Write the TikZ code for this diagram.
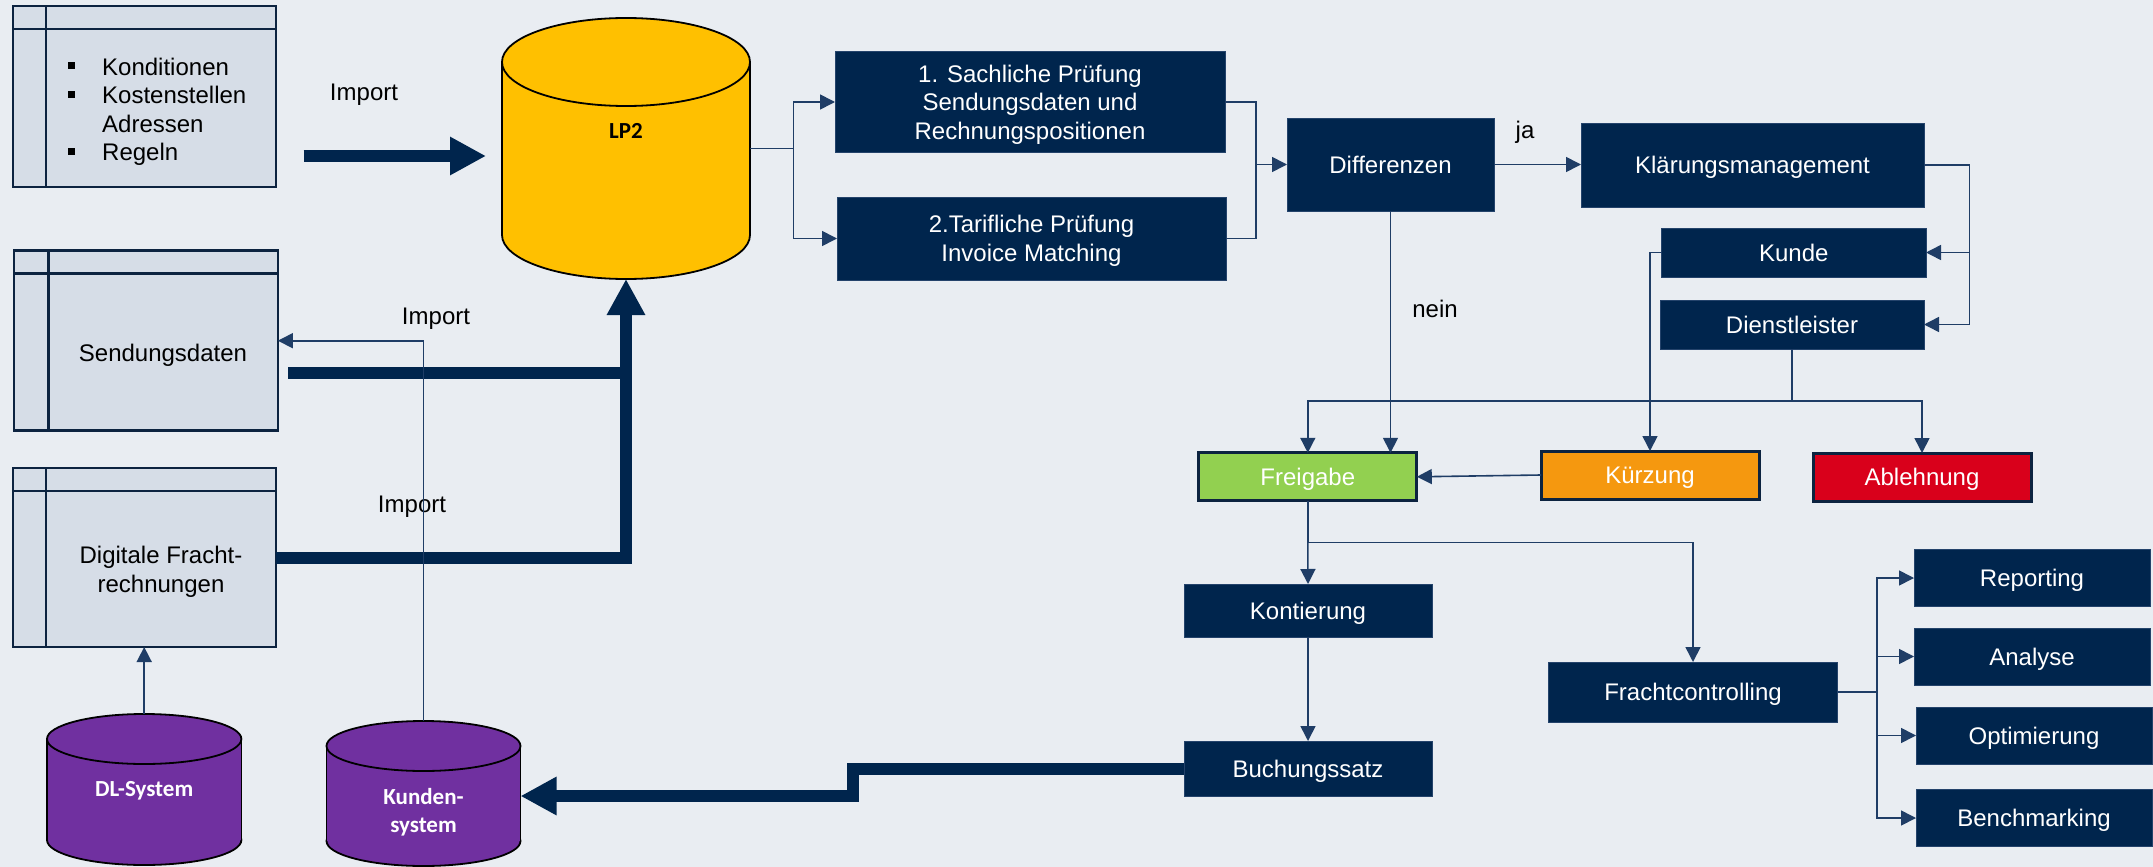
\documentclass[tikz,border=0pt]{standalone}
\usepackage{fontspec}
\setmainfont{Liberation Sans}
\newfontfamily\carlito{Carlito}
\usetikzlibrary{arrows.meta,calc}
\definecolor{bgc}{HTML}{E9EDF2}
\definecolor{navy}{HTML}{00254D}
\definecolor{navyedge}{HTML}{24436B}
\definecolor{linec}{HTML}{1F3D66}
\definecolor{tblfill}{HTML}{D6DDE7}
\definecolor{tbledge}{HTML}{0C2340}
\definecolor{lptwoc}{HTML}{FFC000}
\definecolor{purpc}{HTML}{7030A0}
\definecolor{freigc}{HTML}{92D050}
\definecolor{kurzc}{HTML}{F5980F}
\definecolor{ablc}{HTML}{D9001B}
\newcommand\mainsize{\fontsize{24}{28.5}\selectfont}
\newcommand\cylsize{\carlito\bfseries\fontsize{23}{28.5}\selectfont}
\newcommand\drawcyl[6]{% cx, rx, ytop, ybot, ry, colour
  \filldraw[fill=#6, draw=black, line width=1.8pt] (#1,#4) ellipse [x radius=#2, y radius=#5];
  \fill[#6] ({#1-#2},#3) rectangle ({#1+#2},#4);
  \draw[black, line width=1.8pt] ({#1-#2},#3) -- ({#1-#2},#4);
  \draw[black, line width=1.8pt] ({#1+#2},#3) -- ({#1+#2},#4);
  \filldraw[fill=#6, draw=black, line width=1.8pt] (#1,#3) ellipse [x radius=#2, y radius=#5];
}
\begin{document}
\begin{tikzpicture}[x=1pt,y=-1pt,
  darkbox/.style={rectangle, fill=navy, draw=navyedge, line width=1pt, text=white, align=center, inner sep=0pt, outer sep=0pt, font=\mainsize, text depth=0pt},
  colbox/.style={rectangle, draw=tbledge, line width=3pt, text=white, align=center, inner sep=0pt, outer sep=0pt, font=\mainsize, text depth=0pt, minimum width=218, minimum height=48},
  tbl/.style={rectangle, fill=tblfill, draw=tbledge, line width=2.5pt, inner sep=0pt, outer sep=0pt},
  tblline/.style={draw=tbledge, line width=2.5pt},
  lbl/.style={font=\mainsize, text=black, inner sep=0pt, align=center},
  cylbox/.style={rectangle, inner sep=0pt, outer sep=0pt},
  conn/.style={draw=linec, line width=1.6pt},
  arr/.style={conn, -{Triangle[length=15pt,width=15pt]}},
  thickline/.style={draw=navy, line width=12pt},
  thickarr/.style={thickline, -{Triangle[length=36pt,width=36pt]}}
]
\fill[bgc] (0,0) rectangle (2153,867);
\useasboundingbox (0,0) rectangle (2153,867);

% ---------- table boxes ----------
\node[tbl, minimum width=263, minimum height=181] (konds) at (144.4,96.5) {};
\draw[tblline] ($(konds.north west)+(33.2,0)$) -- ($(konds.south west)+(33.2,0)$);
\draw[tblline] ($(konds.north west)+(0,23)$) -- ($(konds.north east)+(0,23)$);
\foreach \b in {75,103.6,160.8}{\fill[black] (68,\b-13) rectangle (75,\b-6);}
\node[lbl, anchor=base west] (kl1) at (102,75) {Konditionen};
\node[lbl, anchor=base west] (kl2) at (102,103.6) {Kostenstellen};
\node[lbl, anchor=base west] (kl3) at (102,132.2) {Adressen};
\node[lbl, anchor=base west] (kl4) at (102,160.8) {Regeln};

\node[tbl, minimum width=263.7, minimum height=180] (send) at (146,340.7) {};
\draw[tblline] ($(send.north west)+(34.2,0)$) -- ($(send.south west)+(34.2,0)$);
\draw[tblline] ($(send.north west)+(0,22.6)$) -- ($(send.north east)+(0,22.6)$);
\node[lbl] (sendt) at (163,355) {Sendungsdaten};

\node[tbl, minimum width=263, minimum height=179] (digi) at (144.4,557.5) {};
\draw[tblline] ($(digi.north west)+(33.2,0)$) -- ($(digi.south west)+(33.2,0)$);
\draw[tblline] ($(digi.north west)+(0,23)$) -- ($(digi.north east)+(0,23)$);
\node[lbl] (digit) at (161,572) {Digitale Fracht-\\rechnungen};

% ---------- cylinders ----------
\drawcyl{626}{124}{62}{235}{44}{lptwoc}
\node[cylbox, minimum width=248, minimum height=261] (lp2) at (626,148.5) {};
\node[font=\cylsize, text=black, inner sep=0pt] (lp2t) at (626,131) {LP2};

\drawcyl{144.2}{97.2}{739}{840}{25}{purpc}
\node[cylbox, minimum width=194.4, minimum height=151] (dl) at (144.2,789.5) {};
\node[font=\cylsize, text=white, inner sep=0pt] (dlt) at (144.2,791) {DL-System};

\drawcyl{423.5}{97}{746}{841}{25}{purpc}
\node[cylbox, minimum width=194, minimum height=150] (ksys) at (423.5,796) {};
\node[font=\cylsize, text=white, inner sep=0pt, align=center] (ksyst) at (423.5,812) {Kunden-\\system};

% ---------- dark boxes ----------
\node[darkbox, minimum width=390, minimum height=100] (s1) at (1030,102) {1. Sachliche Prüfung\\Sendungsdaten und\\Rechnungspositionen};
\node[darkbox, minimum width=389, minimum height=83] (s2) at (1031.5,238.5) {2.Tarifliche Prüfung\\Invoice Matching};
\node[darkbox, minimum width=207, minimum height=93] (diff) at (1390.5,164.5) {Differenzen};
\node[darkbox, minimum width=343, minimum height=84] (klar) at (1752.5,165) {Klärungsmanagement};
\node[darkbox, minimum width=264.4, minimum height=49] (kunde) at (1793.8,252.5) {Kunde};
\node[darkbox, minimum width=264, minimum height=49] (dienst) at (1792,324.5) {Dienstleister};
\node[colbox, fill=freigc] (freig) at (1307.8,476.8) {Freigabe};
\node[colbox, fill=kurzc] (kurz) at (1650,475) {Kürzung};
\node[colbox, fill=ablc] (abl) at (1922,477) {Ablehnung};
\node[darkbox, minimum width=248, minimum height=53] (kont) at (1308,610.5) {Kontierung};
\node[darkbox, minimum width=248, minimum height=55] (buch) at (1308,768.5) {Buchungssatz};
\node[darkbox, minimum width=289, minimum height=60] (fracht) at (1693,692) {Frachtcontrolling};
\node[darkbox, minimum width=236, minimum height=57] (rep) at (2032,578) {Reporting};
\node[darkbox, minimum width=236, minimum height=57] (ana) at (2032,656.5) {Analyse};
\node[darkbox, minimum width=236, minimum height=57] (opt) at (2034,735.5) {Optimierung};
\node[darkbox, minimum width=236, minimum height=57] (bench) at (2034,818) {Benchmarking};

% ---------- labels ----------
\node[lbl] (imp1) at (364,95) {Import};
\node[lbl] (imp2) at (436,319) {Import};
\node[lbl] (imp3) at (412,507) {Import};
\node[lbl] (ja) at (1525,132) {ja};
\node[lbl] (nein) at (1435,309) {nein};

% ---------- thick connectors ----------
\coordinate (imp1s) at (303.5,156);
\coordinate (imp1e) at (486,156);
\draw[thickarr] (imp1s) -- (imp1e);
\coordinate (sendstart) at (288,372.7);
\draw[thickline] (sendstart) -- ($(sendstart -| lp2.south)+(6,0)$);
\draw[thickarr] (digi.east) -| (lp2.south);
\draw[thickarr] (buch.west) -- ++(-331,0) |- (ksys.east);

% ---------- thin connectors ----------
\draw[arr] (ksys.north) |- (send.east);
\draw[arr] (dl.north) -- (dl.north |- digi.south);

\coordinate (lsplit) at ($(lp2.east)+(43.6,0)$);
\draw[conn] (lp2.east) -- (lsplit);
\draw[arr] (lsplit) |- (s1.west);
\draw[arr] (lsplit) |- (s2.west);

\coordinate (smerge) at ($(diff.west)+(-31,0)$);
\draw[conn] (s1.east) -| (smerge) |- (s2.east);
\draw[arr] (smerge) -- (diff.west);

\draw[arr] (diff.east) -- (diff.east -| klar.west);

\coordinate (kcol) at ($(klar.east)+(45.5,0)$);
\draw[conn] (klar.east) -- (kcol) -- (kcol |- dienst.east);
\draw[arr] (kcol |- kunde.east) -- (kunde.east);
\draw[arr] (kcol |- dienst.east) -- (dienst.east);

\draw[arr] (diff.south) -- (diff.south |- freig.north);
\draw[arr] (kunde.west) -| (kurz.north);

\draw[conn] (dienst.south) -- ++(0,52) coordinate (dj);
\draw[arr] (dj) -| (freig.north);
\draw[arr] (dj) -| (abl.north);

\draw[arr] (kurz.west) -- (freig.east);

\coordinate (fj) at ($(freig.south)+(0,41.7)$);
\draw[conn] (freig.south) -- (fj);
\draw[arr] (fj) -- (kont.north);
\draw[arr] (fj) -| (fracht.north);
\draw[arr] (kont.south) -- (buch.north);

\coordinate (fc) at ($(fracht.east)+(39.6,0)$);
\draw[conn] (fracht.east) -- (fc);
\draw[arr] (fc) |- (rep.west);
\draw[arr] (fc) |- (ana.west);
\draw[arr] (fc) |- (opt.west);
\draw[arr] (fc) |- (bench.west);
\end{tikzpicture}
\end{document}
